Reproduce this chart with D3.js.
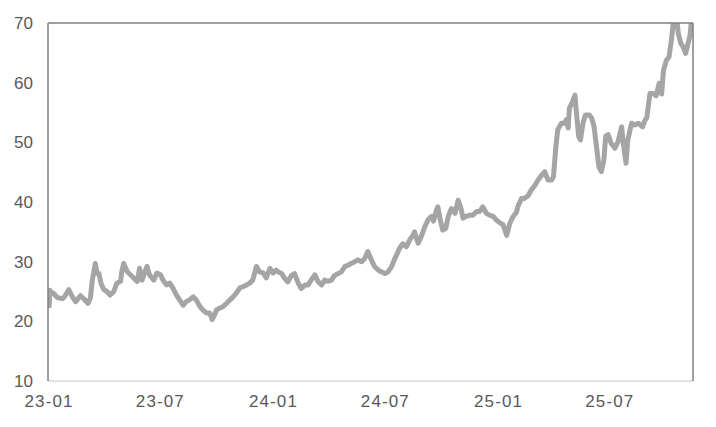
<!DOCTYPE html>
<html>
<head>
<meta charset="utf-8">
<script src="https://cdn.jsdelivr.net/npm/d3@7/dist/d3.min.js"></script>
<style>
  html, body { margin: 0; padding: 0; background: #ffffff; }
  svg { display: block; }
  text { font-family: "Liberation Sans", Arial, sans-serif; fill: #595959; }
</style>
</head>
<body>
<svg id="chart" width="716" height="427"></svg>
<script>
// ---- data ----
const dates = [
  "2023-01-03","2023-01-04","2023-01-05","2023-01-11","2023-01-16","2023-01-24","2023-01-27",
  "2023-02-04","2023-02-09","2023-02-15","2023-02-23","2023-03-01","2023-03-07","2023-03-11",
  "2023-03-14","2023-03-19","2023-03-22","2023-03-25","2023-03-28","2023-04-02","2023-04-07",
  "2023-04-12","2023-04-18","2023-04-23","2023-04-29","2023-05-01","2023-05-04","2023-05-10",
  "2023-05-15","2023-05-20","2023-05-26","2023-05-30","2023-06-03","2023-06-06","2023-06-11",
  "2023-06-15","2023-06-22","2023-06-27","2023-07-03","2023-07-07","2023-07-13","2023-07-18",
  "2023-07-23","2023-07-29","2023-08-03","2023-08-09","2023-08-14","2023-08-19","2023-08-25",
  "2023-08-30","2023-09-05","2023-09-10","2023-09-16","2023-09-21","2023-09-25","2023-09-29",
  "2023-10-02","2023-10-07","2023-10-13","2023-10-18","2023-10-24","2023-10-29","2023-11-03",
  "2023-11-09","2023-11-14","2023-11-20","2023-11-25","2023-11-30","2023-12-06","2023-12-11",
  "2023-12-17","2023-12-22","2023-12-28","2024-01-02","2024-01-07","2024-01-10","2024-01-16",
  "2024-01-21","2024-01-26","2024-02-01","2024-02-06","2024-02-12","2024-02-17","2024-02-23",
  "2024-02-28","2024-03-04","2024-03-10","2024-03-15","2024-03-21","2024-03-26","2024-03-31",
  "2024-04-06","2024-04-11","2024-04-17","2024-04-22","2024-04-28","2024-05-03","2024-05-08",
  "2024-05-14","2024-05-19","2024-05-25","2024-05-30","2024-06-04","2024-06-10","2024-06-15",
  "2024-06-21","2024-06-26","2024-07-02","2024-07-07","2024-07-13","2024-07-18","2024-07-23",
  "2024-07-26","2024-07-31","2024-08-06","2024-08-11","2024-08-17","2024-08-19","2024-08-25",
  "2024-08-30","2024-09-05","2024-09-10","2024-09-16","2024-09-19","2024-09-24","2024-09-26",
  "2024-09-30","2024-10-04","2024-10-09","2024-10-13","2024-10-18","2024-10-24","2024-10-29",
  "2024-11-02","2024-11-06","2024-11-11","2024-11-17","2024-11-22","2024-11-28","2024-12-03",
  "2024-12-08","2024-12-14","2024-12-19","2024-12-25","2024-12-30","2025-01-05","2025-01-10",
  "2025-01-16","2025-01-21","2025-01-26","2025-02-01","2025-02-03","2025-02-09","2025-02-14",
  "2025-02-20","2025-02-25","2025-03-03","2025-03-08","2025-03-14","2025-03-19","2025-03-24",
  "2025-03-30","2025-04-02","2025-04-06","2025-04-09","2025-04-15","2025-04-20","2025-04-23",
  "2025-04-26","2025-04-28","2025-05-03","2025-05-07","2025-05-09","2025-05-13","2025-05-16",
  "2025-05-20","2025-05-24","2025-05-30","2025-06-03","2025-06-07","2025-06-11","2025-06-15",
  "2025-06-19","2025-06-23","2025-06-26","2025-06-30","2025-07-05","2025-07-11","2025-07-16",
  "2025-07-22","2025-07-24","2025-07-29","2025-08-01","2025-08-07","2025-08-12","2025-08-18",
  "2025-08-25","2025-08-28","2025-09-01","2025-09-06","2025-09-11","2025-09-16","2025-09-21",
  "2025-09-25","2025-09-28","2025-10-03","2025-10-07","2025-10-11","2025-10-15","2025-10-19",
  "2025-10-22","2025-10-26","2025-10-30","2025-11-03","2025-11-07","2025-11-10","2025-11-13"
];
const values = [
  22.6,25.2,25.0,24.6,24.0,23.8,24.0,
  25.3,24.2,23.3,24.3,23.7,23.0,23.9,
  26.9,29.7,28.0,28.0,26.4,25.3,25.0,
  24.4,25.0,26.4,26.7,28.3,29.7,28.3,
  27.8,27.3,26.7,28.9,26.9,27.8,29.2,
  27.8,26.9,28.1,27.8,26.9,26.1,26.4,
  25.6,24.4,23.6,22.7,23.3,23.6,24.1,
  23.6,22.5,21.9,21.4,21.4,20.3,21.1,
  21.9,22.2,22.5,23.0,23.6,24.1,24.7,
  25.6,25.8,26.1,26.4,26.9,29.2,28.3,
  28.1,27.3,28.9,28.1,28.6,28.3,28.0,
  27.2,26.6,27.7,28.0,26.4,25.5,26.1,
  26.1,26.9,27.8,26.7,26.1,26.9,26.7,
  26.9,27.7,28.0,28.3,29.2,29.4,29.7,
  30.0,30.3,30.0,30.5,31.7,30.3,29.2,
  28.6,28.3,28.0,28.3,29.2,30.5,31.6,
  32.3,33.0,32.5,33.6,34.5,35.0,33.1,
  34.2,35.9,37.0,37.6,36.8,38.7,39.2,
  37.0,35.3,35.6,37.6,38.9,38.1,40.3,
  39.2,37.3,37.6,37.8,37.8,38.4,38.4,
  39.2,38.1,37.8,37.6,37.0,36.5,36.2,
  34.4,36.4,37.5,38.3,39.2,40.6,40.6,
  41.1,42.0,42.8,43.7,44.5,45.1,43.7,
  43.7,44.2,49.3,52.1,53.2,53.2,53.8,
  52.4,55.7,56.8,57.9,55.4,51.0,50.4,
  53.2,54.6,54.6,54.1,52.7,49.3,45.9,
  45.1,47.0,51.0,51.3,49.8,49.0,50.1,
  52.6,50.4,46.5,50.4,53.2,52.9,53.2,
  52.6,53.5,54.2,58.2,58.2,57.8,59.9,
  58.1,62.1,63.8,64.3,67.2,71.0,71.5,
  68.3,66.6,66.0,64.9,66.6,67.8,71.0
];
const yTicks = [10, 20, 30, 40, 50, 60, 70];
const xTickLabels = ["23-01", "23-07", "24-01", "24-07", "25-01", "25-07"];
const xTickDates = ["2023-01-01", "2023-07-01", "2024-01-01", "2024-07-01", "2025-01-01", "2025-07-01"];
const xDomain = ["2023-01-01", "2025-11-15"];

// ---- chart ----
const parse = d3.timeParse("%Y-%m-%d");
const data = dates.map((d, i) => ({ date: parse(d), value: values[i] }));

const margin = { left: 48, right: 23, top: 23, bottom: 46 };
const W = 716, H = 427;
const svg = d3.select("#chart");

const x = d3.scaleTime().domain(xDomain.map(parse)).range([margin.left, W - margin.right]);
const y = d3.scaleLinear().domain([10, 70]).range([H - margin.bottom, margin.top]);

svg.append("defs").append("clipPath").attr("id", "plotclip")
  .append("rect")
  .attr("x", margin.left).attr("y", margin.top)
  .attr("width", W - margin.left - margin.right)
  .attr("height", H - margin.top - margin.bottom);

// line
const line = d3.line().x(d => x(d.date)).y(d => y(d.value)).curve(d3.curveLinear);
svg.append("path")
  .datum(data)
  .attr("clip-path", "url(#plotclip)")
  .attr("fill", "none")
  .attr("stroke", "#a5a5a5")
  .attr("stroke-width", 5)
  .attr("stroke-linejoin", "round")
  .attr("stroke-linecap", "round")
  .attr("d", line);

// frame
const x0 = margin.left, x1 = W - margin.right, y0 = margin.top, y1 = H - margin.bottom;
svg.append("line").attr("x1", x0).attr("x2", x1).attr("y1", y1).attr("y2", y1)
  .attr("stroke", "#d9d9d9").attr("stroke-width", 1.5);
svg.append("line").attr("x1", x0).attr("x2", x1).attr("y1", y0).attr("y2", y0)
  .attr("stroke", "#808080").attr("stroke-width", 1.5);
svg.append("line").attr("x1", x1).attr("x2", x1).attr("y1", y0).attr("y2", y1)
  .attr("stroke", "#808080").attr("stroke-width", 1.5);
svg.append("line").attr("x1", x0).attr("x2", x0).attr("y1", y0).attr("y2", y1)
  .attr("stroke", "#808080").attr("stroke-width", 1.5);

// y axis labels
const yAxis = d3.axisLeft(y).tickValues(yTicks).tickSize(0).tickPadding(15).tickFormat(d3.format("d"));
const gy = svg.append("g").attr("transform", `translate(${x0},0)`).call(yAxis);
gy.select(".domain").remove();
gy.selectAll("text").style("font-size", "17px").attr("fill", "#595959")
  .style("font-family", "'Liberation Sans', Arial, sans-serif");

// x axis labels
const xAxis = d3.axisBottom(x).tickValues(xTickDates.map(parse)).tickSize(0).tickPadding(14)
  .tickFormat((d, i) => xTickLabels[i]);
const gx = svg.append("g").attr("transform", `translate(0,${y1})`).call(xAxis);
gx.select(".domain").remove();
gx.selectAll("text").style("font-size", "17px").attr("fill", "#595959")
  .style("font-family", "'Liberation Sans', Arial, sans-serif")
  .attr("textLength", 48).attr("lengthAdjust", "spacing");
</script>
</body>
</html>
